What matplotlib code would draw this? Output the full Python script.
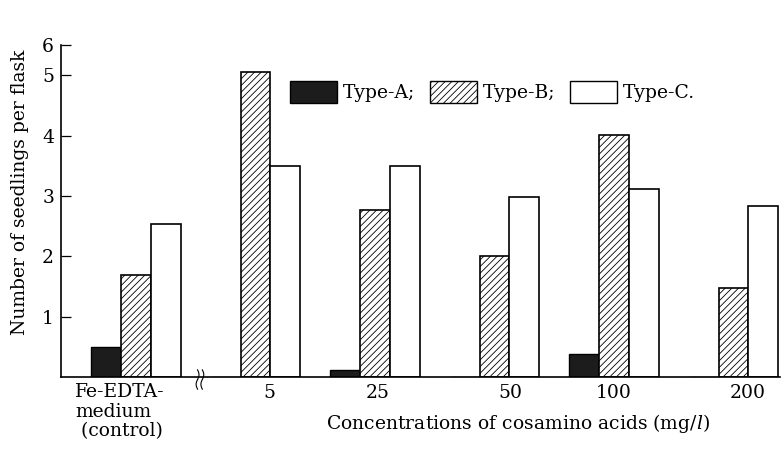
import matplotlib
matplotlib.use("Agg")
import matplotlib.pyplot as plt
import numpy as np
from matplotlib.patches import Patch

plt.rcParams['font.family'] = ['DejaVu Serif']
plt.rcParams['mathtext.fontset'] = 'dejavuserif'
plt.rcParams['hatch.linewidth'] = 0.6

groups = ["Fe-EDTA-\nmedium\n (control)", "5", "25", "50", "100", "200"]
type_a = [0.50, 0.0, 0.12, 0.0, 0.38, 0.0]
type_b = [1.69, 5.05, 2.76, 2.00, 4.01, 1.47]
type_c = [2.54, 3.50, 3.50, 2.98, 3.12, 2.83]
ytick_vals = [1, 2, 3, 4, 5]
ytick_labels = ["1", "2", "3", "4", "5"]

fig = plt.figure(figsize=(7.82, 4.5), dpi=100)
ax = fig.add_axes([0.078, 0.162, 0.9195, 0.738])

x = np.arange(len(groups))
w = 0.25
ax.bar(x - w, type_a, w, color='#1c1c1c', edgecolor='black', linewidth=1.0)
ax.bar(x, type_b, w, color='white', edgecolor='black', hatch='/////', linewidth=1.2)
ax.bar(x + w, type_c, w, color='white', edgecolor='black', linewidth=1.2)

ax.set_xlim(-0.628, 5.39)
ax.set_ylim(0, 5.5)
ax.spines['top'].set_visible(False)
ax.spines['right'].set_visible(False)
ax.spines['left'].set_linewidth(1.2)
ax.spines['bottom'].set_linewidth(1.2)

ax.set_yticks(ytick_vals + [5.5])
ax.set_yticklabels(ytick_labels + ["6"], fontsize=13.5)
ax.tick_params(axis='y', direction='in', length=7, width=0.9, pad=5)

# tick label placement as in the original print (slightly off-centre)
label_shift = np.array([0.12, 0.02, 0.13, 0.0, 0.12])
ax.set_xticks(x[1:] + label_shift)
ax.set_xticklabels(groups[1:], fontsize=13.5)
ax.tick_params(axis='x', length=0, pad=5)
ax.text(-0.51, -0.1, groups[0], ha='left', va='top', fontsize=13.5,
        linespacing=1.1, transform=ax.transData)

# axis break mark (two small wavy strokes)
t = np.linspace(-0.2, 0.12, 30)
for dx in (0.0, 0.04):
    ax.plot(0.515 + dx + 0.012 * np.sin((t + 0.04) / 0.32 * 2 * np.pi), t,
            color='black', lw=0.8, clip_on=False)

ax.set_ylabel("Number of seedlings per flask", fontsize=13.5)
ax.yaxis.set_label_coords(-0.044, 0.556)
ax.text(3.2, -0.58, "Concentrations of cosamino acids (mg/$\\mathit{l}$)",
        ha='center', va='top', fontsize=13.5)

handles = [Patch(facecolor='#1c1c1c', edgecolor='black'),
           Patch(facecolor='white', edgecolor='black', hatch='/////'),
           Patch(facecolor='white', edgecolor='black')]
ax.legend(handles, ["Type-A;", "Type-B;", "Type-C."], ncol=3, frameon=False,
          fontsize=13.5, loc='center', bbox_to_anchor=(0.6, 0.858),
          handlelength=2.5, handleheight=1.4, handletextpad=0.3,
          columnspacing=0.8)

fig.savefig("out.png", dpi=100)
